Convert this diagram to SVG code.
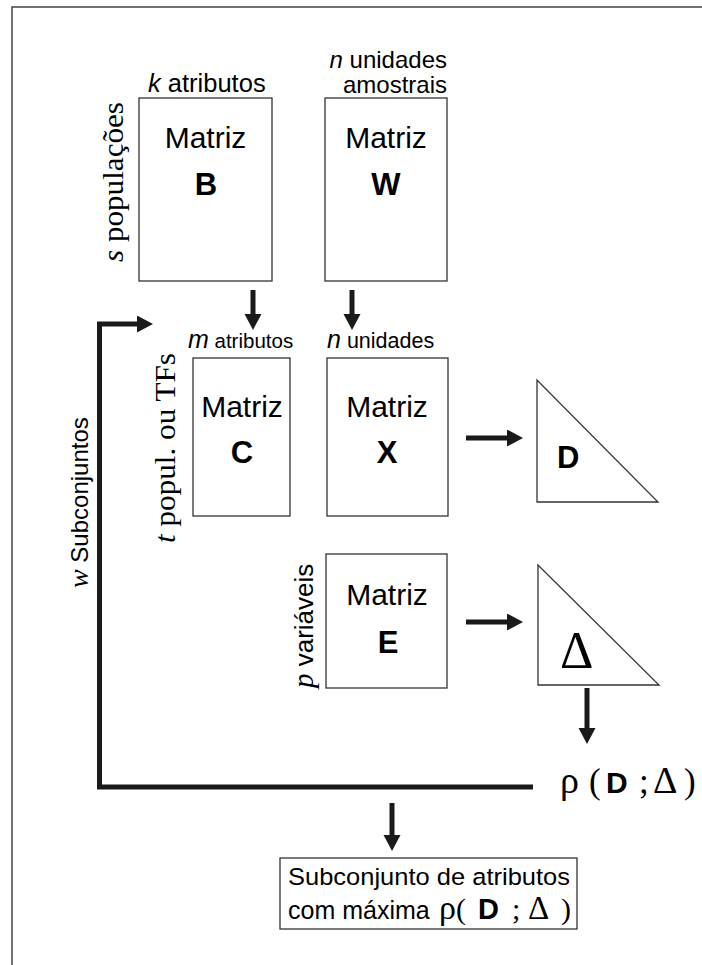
<svg xmlns="http://www.w3.org/2000/svg" width="702" height="965" viewBox="0 0 702 965">
<style>
.box{fill:#fff;stroke:#333;stroke-width:1.3}
.sans{font-family:"Liberation Sans",Arial,sans-serif;fill:#000}
.serif{font-family:"Liberation Serif","Times New Roman",serif;fill:#000}
.b{font-weight:bold}
.i{font-style:italic}
.mt{font-size:30px}
.ml{font-size:31px;font-weight:bold}
.conn{fill:none;stroke:#1a1a1a;stroke-width:5}
</style>
<defs>
<marker id="ah" markerUnits="userSpaceOnUse" markerWidth="17" markerHeight="18" refX="0" refY="8.5" orient="auto">
<path d="M0,0 L16,8.5 L0,17 Z" fill="#1a1a1a"/>
</marker>
</defs>
<path d="M12,965 V7 H702" fill="none" stroke="#444" stroke-width="1.5"/>

<g id="matrizB">
<rect class="box" x="139" y="98" width="133" height="183"/>
<text class="sans mt" x="205.5" y="148" text-anchor="middle">Matriz</text>
<text class="sans ml" x="206" y="195" text-anchor="middle">B</text>
<text class="sans" x="148" y="92" font-size="25.5"><tspan class="i">k</tspan> atributos</text>
<text class="serif" transform="translate(123,262) rotate(-90)" font-size="30" textLength="160" lengthAdjust="spacingAndGlyphs"><tspan class="i">s</tspan>  populações</text>
</g>

<g id="matrizW">
<rect class="box" x="325" y="98" width="122" height="183"/>
<text class="sans mt" x="386" y="148" text-anchor="middle">Matriz</text>
<text class="sans ml" x="386" y="195" text-anchor="middle">W</text>
<text class="sans" x="447" y="68" font-size="24" text-anchor="end"><tspan class="i">n</tspan> unidades</text>
<text class="sans" x="447" y="93" font-size="24" text-anchor="end">amostrais</text>
</g>

<g id="matrizC">
<rect class="box" x="193" y="358" width="97" height="158"/>
<text class="sans mt" x="242" y="417" text-anchor="middle">Matriz</text>
<text class="sans ml" x="242" y="463" text-anchor="middle">C</text>
<text class="sans" x="188" y="348"><tspan class="i" font-size="25">m</tspan><tspan font-size="20.5"> atributos</tspan></text>
<text class="serif" transform="translate(175,543) rotate(-90)" font-size="30" textLength="190" lengthAdjust="spacingAndGlyphs"><tspan class="i">t</tspan>  popul. ou TFs</text>
</g>

<g id="matrizX">
<rect class="box" x="327" y="358" width="121" height="158"/>
<text class="sans mt" x="387" y="417" text-anchor="middle">Matriz</text>
<text class="sans ml" x="387" y="463" text-anchor="middle">X</text>
<text class="sans" x="327" y="348"><tspan class="i" font-size="25">n</tspan><tspan font-size="21.5"> unidades</tspan></text>
</g>

<g id="matrizE">
<rect class="box" x="326" y="554" width="121" height="134"/>
<text class="sans mt" x="387" y="605" text-anchor="middle">Matriz</text>
<text class="sans ml" x="388" y="653" text-anchor="middle">E</text>
<text transform="translate(313,688) rotate(-90)"><tspan class="serif i" font-size="29">p</tspan><tspan class="sans" font-size="26"> variáveis</tspan></text>
</g>

<g id="triD">
<polygon class="box" points="537,380 537,502 658,502"/>
<text class="sans b" x="557" y="468" font-size="31">D</text>
</g>

<g id="triDelta">
<polygon class="box" points="538,565 538,685 659,685"/>
<text class="serif" x="560" y="668" font-size="52">Δ</text>
</g>

<g id="rho">
<text x="560" y="793"><tspan class="serif" font-size="38">ρ</tspan><tspan class="serif" font-size="35" x="589">(</tspan><tspan class="sans b" font-size="30" x="606">D</tspan><tspan class="serif" font-size="35" x="639">;</tspan><tspan class="serif" font-size="38" x="653">Δ</tspan><tspan class="serif" font-size="35" x="684">)</tspan></text>
</g>

<g id="resultado">
<rect class="box" x="280" y="858" width="297" height="71"/>
<text class="sans" x="288" y="885" font-size="24.5" textLength="282" lengthAdjust="spacingAndGlyphs">Subconjunto de atributos</text>
<text x="288" y="919"><tspan class="sans" font-size="25">com máxima </tspan><tspan class="serif" font-size="34" x="439">ρ</tspan><tspan class="serif" font-size="30" x="456">(</tspan><tspan class="sans b" font-size="29" x="478">D</tspan><tspan class="serif" font-size="30" x="512">;</tspan><tspan class="serif" font-size="33" x="528">Δ</tspan><tspan class="serif" font-size="30" x="561">)</tspan></text>
</g>

<g id="wlabel">
<text transform="translate(88,588) rotate(-90)"><tspan class="serif i" font-size="28">w</tspan><tspan class="sans" font-size="24">  Subconjuntos</tspan></text>
</g>

<g id="connectors">
<line class="conn" x1="253" y1="290" x2="253" y2="314" marker-end="url(#ah)"/>
<line class="conn" x1="352" y1="290" x2="352" y2="314" marker-end="url(#ah)"/>
<path class="conn" d="M533,787 H99.5 V324 H137" marker-end="url(#ah)"/>
<line class="conn" x1="466" y1="438" x2="507" y2="438" marker-end="url(#ah)"/>
<line class="conn" x1="466" y1="622" x2="507" y2="622" marker-end="url(#ah)"/>
<line class="conn" x1="587" y1="688" x2="587" y2="728" marker-end="url(#ah)"/>
<line class="conn" x1="392" y1="803" x2="392" y2="835" marker-end="url(#ah)"/>
</g>
</svg>
